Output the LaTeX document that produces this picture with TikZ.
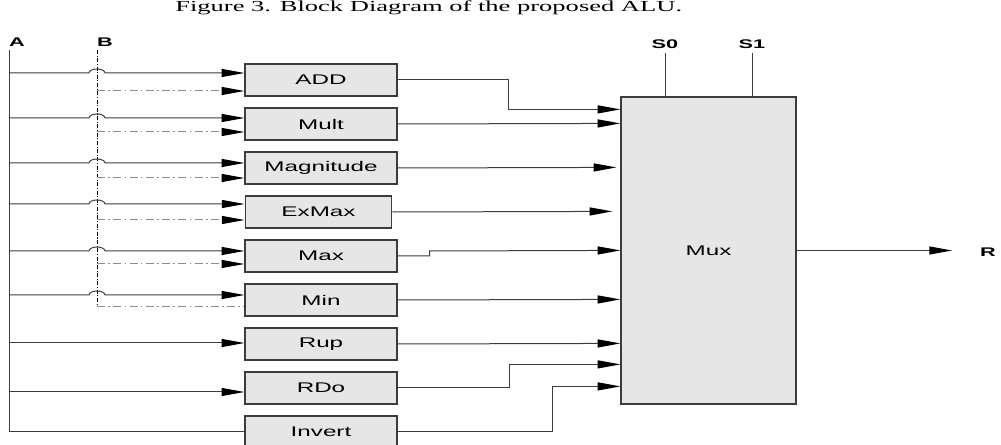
\documentclass[tikz,border=0pt]{standalone}
\usepackage{fontspec}
\setmainfont{Liberation Serif}
\setsansfont{Liberation Sans}
\usetikzlibrary{arrows.meta,calc}
\definecolor{ln}{HTML}{3C3C3C}
\definecolor{bx}{HTML}{E6E6E6}
\definecolor{dd}{HTML}{8C8C8C}
\newcommand{\wide}[1]{\scalebox{1.73}[1]{#1}}
\begin{document}
\begin{tikzpicture}[x=0.75pt,y=-0.75pt,
  blk/.style={draw=ln, line width=0.9pt, fill=bx, minimum width=114pt, minimum height=24pt, inner sep=0pt, font=\sffamily\fontsize{10.5}{12}\selectfont},
  wire/.style={draw=ln, line width=0.75pt},
  arr/.style={wire, -{Triangle[length=17pt,width=6pt,color=black]}},
  dwire/.style={draw=dd, line width=0.75pt, dash pattern=on 6pt off 2.5pt on 1.2pt off 2.5pt},
  bwire/.style={draw=black, line width=0.75pt, dash pattern=on 3pt off 1.2pt on 0.8pt off 1.2pt},
  lbl/.style={font=\sffamily\bfseries\fontsize{9.4}{11}\selectfont, inner sep=0pt},
]
\useasboundingbox (0,0) rectangle (1001,445);
\clip (0,0) rectangle (1001,445);

% caption
\node[font=\fontsize{11.5}{14}\selectfont, anchor=base west, inner sep=0pt] (cap) at (175,12) {\wide{Figure 3. Block Diagram of the proposed ALU.}};

% input labels
\node[lbl] (la) at (17,42) {\wide{A}};
\node[lbl] (lb) at (105,42) {\wide{B}};
\coordinate (Atop) at (9,50);
\coordinate (Btop) at (97,50);
\coordinate (Bbot) at (97,307);

% blocks
\node[blk] (add)  at (321,80)  {\wide{ADD}};
\node[blk] (mult) at (321,124) {\wide{Mult}};
\node[blk] (mag)  at (321,168) {\wide{Magnitude}};
\node[blk, minimum width=110pt] (exm) at (318.5,212) {\wide{ExMax}};
\node[blk] (max)  at (321,256) {\wide{Max}};
\node[blk] (min)  at (321,300) {\wide{Min}};
\node[blk] (rup)  at (321,344) {\wide{Rup}};
\node[blk] (rdo)  at (321,388) {\wide{RDo}};
\node[blk] (inv)  at (321,432) {\wide{Invert}};

\node[blk, minimum width=131.25pt, minimum height=230.25pt] (mux) at (708.5,250.5) {\wide{Mux}};

% B bus
\draw[bwire] (Btop) -- (Bbot);
\draw[dwire] (Bbot) -- (min.west |- Bbot);

% A bus
\draw[wire] (Atop) |- (inv.west);

% A inputs with hops over B, and B inputs
\foreach \n/\ya/\yb in {add/73/91, mult/118/132, mag/163/178, exm/204/220, max/251/264}{
  \coordinate (ia) at (9,\ya);
  \coordinate (ib) at (97,\yb);
  \draw[arr] (ia) -- (89,\ya) arc[start angle=180,end angle=0,x radius=6pt,y radius=3pt] -- (\n.west |- ia);
  \draw[dwire, -{Triangle[length=17pt,width=6pt,color=black]}] (ib) -- (\n.west |- ib);
}
\coordinate (iamin) at (9,295);
\draw[arr] (iamin) -- (89,295) arc[start angle=180,end angle=0,x radius=6pt,y radius=3pt] -- (min.west |- iamin);
\coordinate (iarup) at (9,343);
\coordinate (iardo) at (9,392);
\draw[arr] (iarup) -- (rup.west |- iarup);
\draw[arr] (iardo) -- (rdo.west |- iardo);

% mux inputs
\coordinate (mi1) at ($(mux.north west)+(0,13)$);
\coordinate (mi2) at ($(mux.north west)+(0,27)$);
\coordinate (mi3) at ($(mux.north west)+(-4,71)$);
\coordinate (mi4) at ($(mux.north west)+(-8,115)$);
\coordinate (mi5) at ($(mux.north west)+(0,154)$);
\coordinate (mi6) at ($(mux.north west)+(0,203)$);
\coordinate (mi7) at ($(mux.north west)+(0,247)$);
\coordinate (mi8) at ($(mux.north west)+(0,268)$);
\coordinate (mi9) at ($(mux.north west)+(0,290)$);

\draw[arr] (add.east) -- ++(111,0) |- (mi1);
\draw[arr] (mult.east) -- (mi2);
\draw[arr] (mag.east) -- (mi3);
\draw[arr] (exm.east) -- (mi4);
\draw[arr] (max.east) -- ++(32,0) -- ++(0,-5) -- (mi5);
\draw[arr] (min.east) -- (mi6);
\draw[arr] (rup.east) -- (mi7);
\draw[arr] (rdo.east) -- ++(112,0) |- (mi8);
\draw[arr] (inv.east) -- ++(155,0) |- (mi9);

% select lines
\node[lbl] (ls0) at (665,44) {\wide{S0}};
\node[lbl] (ls1) at (752,44) {\wide{S1}};
\coordinate (s0) at (665,53);
\coordinate (s1) at (752,53);
\draw[wire] (s0) -- (s0 |- mux.north);
\draw[wire] (s1) -- (s1 |- mux.north);

% output
\node[lbl] (lr) at (988,252) {\wide{R}};
\coordinate (rt) at (952,250.5);
\draw[arr] (mux.east) -- (rt);
\end{tikzpicture}
\end{document}
